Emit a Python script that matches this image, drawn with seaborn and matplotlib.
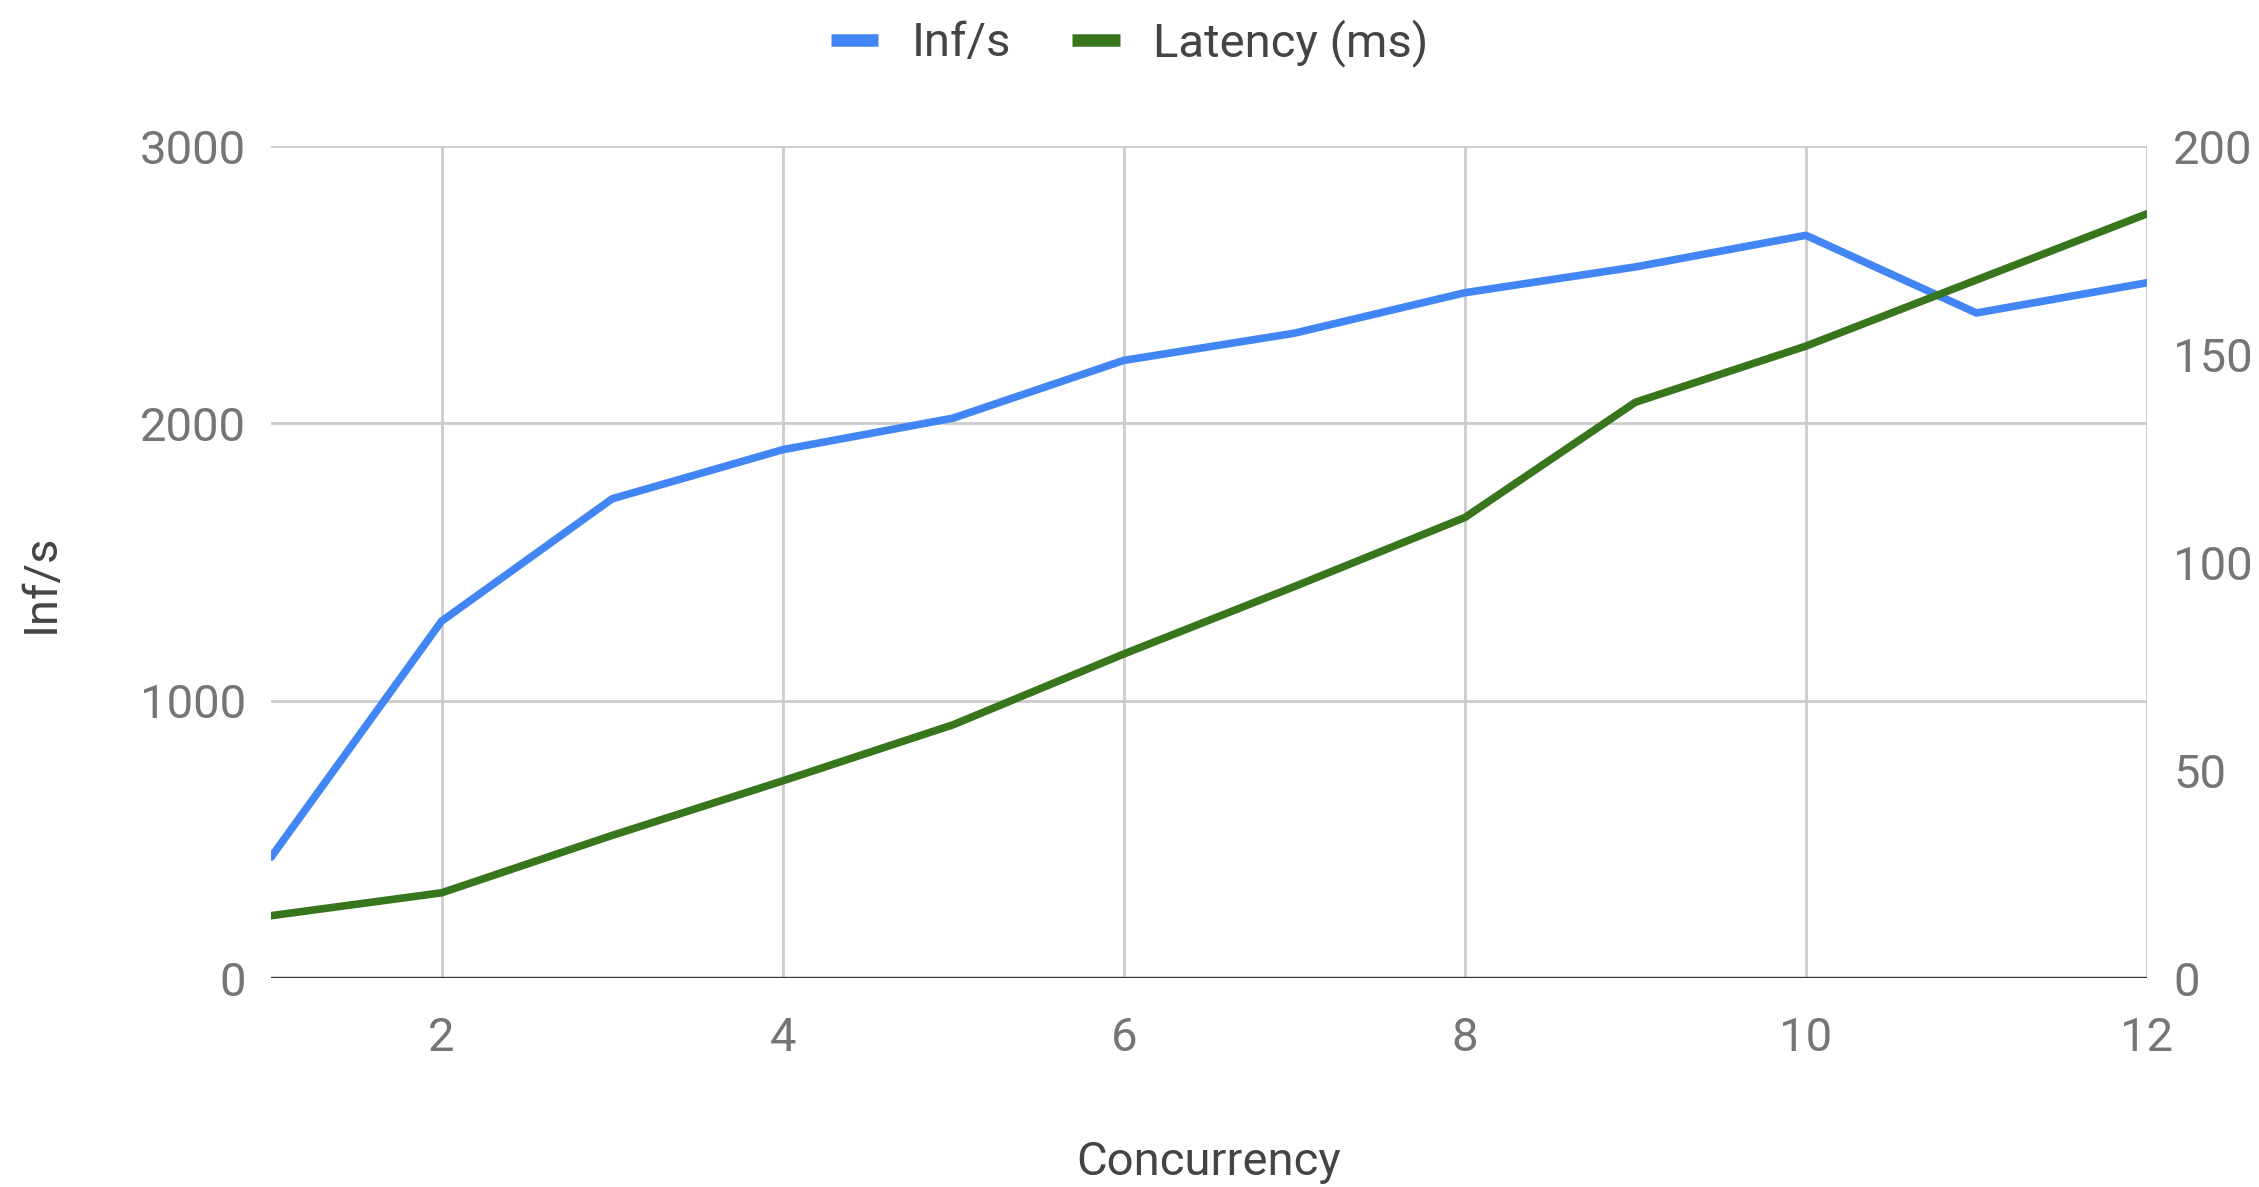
import matplotlib
matplotlib.use("Agg")
import matplotlib.pyplot as plt
from matplotlib.lines import Line2D
import seaborn as sns
import pandas as pd

# Throughput and latency measured at each concurrency level
concurrency = [1, 2, 3, 4, 5, 6, 7, 8, 9, 10, 11, 12]
inf_per_sec = [436, 1287, 1728, 1905, 2019, 2227, 2325, 2471, 2564, 2678, 2398, 2507]
latency_ms = [15, 20.5, 34.3, 47.4, 60.9, 77.9, 94.1, 110.7, 138.4, 151.9, 167.8, 183.7]

left_ticks = [0, 1000, 2000, 3000]
right_ticks = [0, 50, 100, 150, 200]
x_ticks = [2, 4, 6, 8, 10, 12]

BLUE = "#4285F4"
GREEN = "#38761D"
TICK_GREY = "#757575"
LABEL_GREY = "#444444"
GRID = "#CCCCCC"
FS = 34

df = pd.DataFrame({"Concurrency": concurrency, "Inf/s": inf_per_sec,
                   "Latency (ms)": latency_ms})

sns.set_theme(style="white")
plt.rcParams["font.family"] = ["Roboto", "DejaVu Sans"]

fig = plt.figure(figsize=(22.59, 11.87), dpi=100)
ax = fig.add_axes([0.12, 0.176, 0.8304, 0.701])
ax2 = ax.twinx()

sns.lineplot(data=df, x="Concurrency", y="Inf/s", ax=ax, color=BLUE,
             linewidth=5.5, legend=False)
sns.lineplot(data=df, x="Concurrency", y="Latency (ms)", ax=ax2, color=GREEN,
             linewidth=5.5, legend=False)

ax.set_xlim(1, 12)
ax.set_ylim(0, 3000)
ax2.set_ylim(0, 200)
ax.set_xticks(x_ticks)
ax.set_yticks(left_ticks)
ax2.set_yticks(right_ticks)

for a in (ax, ax2):
    for s in a.spines.values():
        s.set_visible(False)

ax.grid(True, color=GRID, linewidth=2.0)
ax2.grid(False)
ax.set_axisbelow(True)
ax.axhline(0, color="#333333", linewidth=2.4, zorder=3)

ax.tick_params(axis="y", length=0, pad=18, labelsize=FS, labelcolor=TICK_GREY)
ax.tick_params(axis="x", length=0, pad=27, labelsize=FS, labelcolor=TICK_GREY)
ax2.tick_params(axis="y", length=0, pad=19, labelsize=FS, labelcolor=TICK_GREY)

ax.set_xlabel("Concurrency", fontsize=FS, color=LABEL_GREY, va="top")
ax.xaxis.set_label_coords(0.5, -0.195)
ax.set_ylabel("Inf/s", fontsize=FS, color=LABEL_GREY)
ax.yaxis.set_label_coords(-0.111, 0.475)
ax2.set_ylabel("")

handles = [Line2D([0], [0], color=BLUE, linewidth=9, solid_capstyle="butt"),
           Line2D([0], [0], color=GREEN, linewidth=9, solid_capstyle="butt")]
leg = fig.legend(handles, ["Inf/s", "Latency (ms)"], loc="center",
                 bbox_to_anchor=(0.5, 0.964), ncol=2, frameon=False,
                 fontsize=FS, handlelength=1.0, handletextpad=0.7,
                 columnspacing=1.3)
for t in leg.get_texts():
    t.set_color(LABEL_GREY)

fig.savefig("out.png", dpi=100, facecolor="white")
